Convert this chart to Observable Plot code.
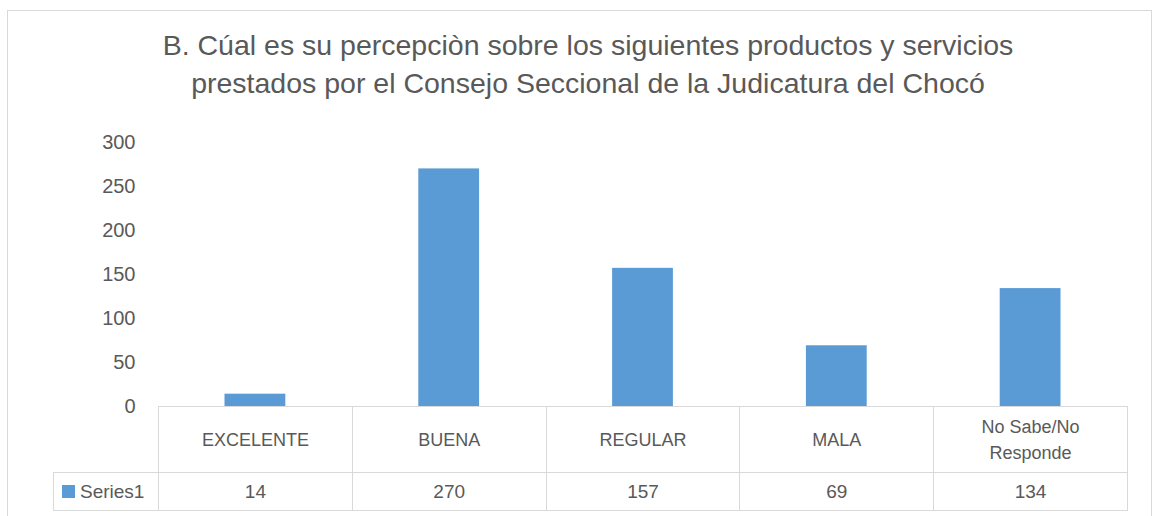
<!DOCTYPE html>
<html>
<head>
<meta charset="utf-8">
<script src="https://cdn.jsdelivr.net/npm/d3@7"></script>
<script src="https://cdn.jsdelivr.net/npm/@observablehq/plot@0.6"></script>
<style>
  html, body { margin: 0; padding: 0; background: #fff; }
  #chart { position: relative; width: 1156px; height: 516px; overflow: hidden; font-family: "Liberation Sans", Arial, sans-serif; color: #595959; }
  #frame { position: absolute; left: 7px; top: 10px; width: 1145px; height: 520px; border: 1px solid #d9d9d9; box-sizing: border-box; }
  #title { position: absolute; left: 0; top: 26px; width: 1176px; text-align: center; font-size: 28.5px; line-height: 38px; color: #595959; }
  #plot { position: absolute; left: 0; top: 120px; }
  #plot svg { overflow: visible; }
  #tbl { position: absolute; top: 406px; border-collapse: collapse; table-layout: fixed; font-size: 18px; color: #595959; }
  #tbl td { border: 1px solid #d9d9d9; text-align: center; padding: 0; line-height: 26px; }
  #tbl td.corner { border: none; }
  #tbl tr.cats td { height: 65px; }
  #tbl tr.vals td { height: 37px; font-size: 19px; }
  #tbl td.series { text-align: left; padding-left: 8px; white-space: nowrap; font-size: 20px; }
  .key { display: inline-block; width: 13px; height: 13px; background: #5b9bd5; margin-right: 5px; vertical-align: 0px; }
</style>
</head>
<body>
<div id="chart">
  <div id="frame"></div>
  <div id="title"></div>
  <div id="plot"></div>
  <table id="tbl"></table>
</div>
<script>
const titleLines = [
  "B. Cúal es su percepciòn sobre los siguientes productos y servicios",
  "prestados por el Consejo Seccional de la Judicatura del Chocó"
];
const categories = ["EXCELENTE", "BUENA", "REGULAR", "MALA", "No Sabe/No Responde"];
const values = [14, 270, 157, 69, 134];
const yTicks = [0, 50, 100, 150, 200, 250, 300];
const seriesName = "Series1";
const barColor = "#5b9bd5";

const data = categories.map((c, i) => ({category: c, value: values[i]}));

d3.select("#title").selectAll("div").data(titleLines).join("div").text(d => d);

const plot = Plot.plot({
  width: 1156,
  height: 396,
  marginTop: 22,
  marginBottom: 110,
  marginLeft: 158,
  marginRight: 29,
  style: {fontFamily: "'Liberation Sans', Arial, sans-serif", fontSize: "20px", color: "#595959", background: "transparent"},
  x: {domain: categories, padding: 0, round: false, axis: null},
  y: {domain: [0, 300], ticks: yTicks, label: null, tickSize: 0, tickPadding: 23},
  marks: [
    Plot.barY(data, {x: "category", y: "value", fill: barColor, insetLeft: 66.5, insetRight: 66.5})
  ]
});
document.getElementById("plot").appendChild(plot);

// data table aligned to the x scale
const xs = plot.scale("x");
const left0 = 53;
const tbl = d3.select("#tbl").style("left", left0 + "px");
const colWidths = [xs.range[0] - left0, ...categories.map(() => xs.step)];
tbl.append("colgroup").selectAll("col").data(colWidths).join("col").style("width", d => d + "px");
tbl.style("width", d3.sum(colWidths) + "px");
const r1 = tbl.append("tr").attr("class", "cats");
r1.append("td").attr("class", "corner");
r1.selectAll("td.c").data(categories).join("td").attr("class", "c")
  .html(d => d.replace("/No ", "/No<br>"));
const r2 = tbl.append("tr").attr("class", "vals");
r2.append("td").attr("class", "series").html(`<span class="key"></span>${seriesName}`);
r2.selectAll("td.v").data(values).join("td").attr("class", "v").text(d => d);
</script>
</body>
</html>
